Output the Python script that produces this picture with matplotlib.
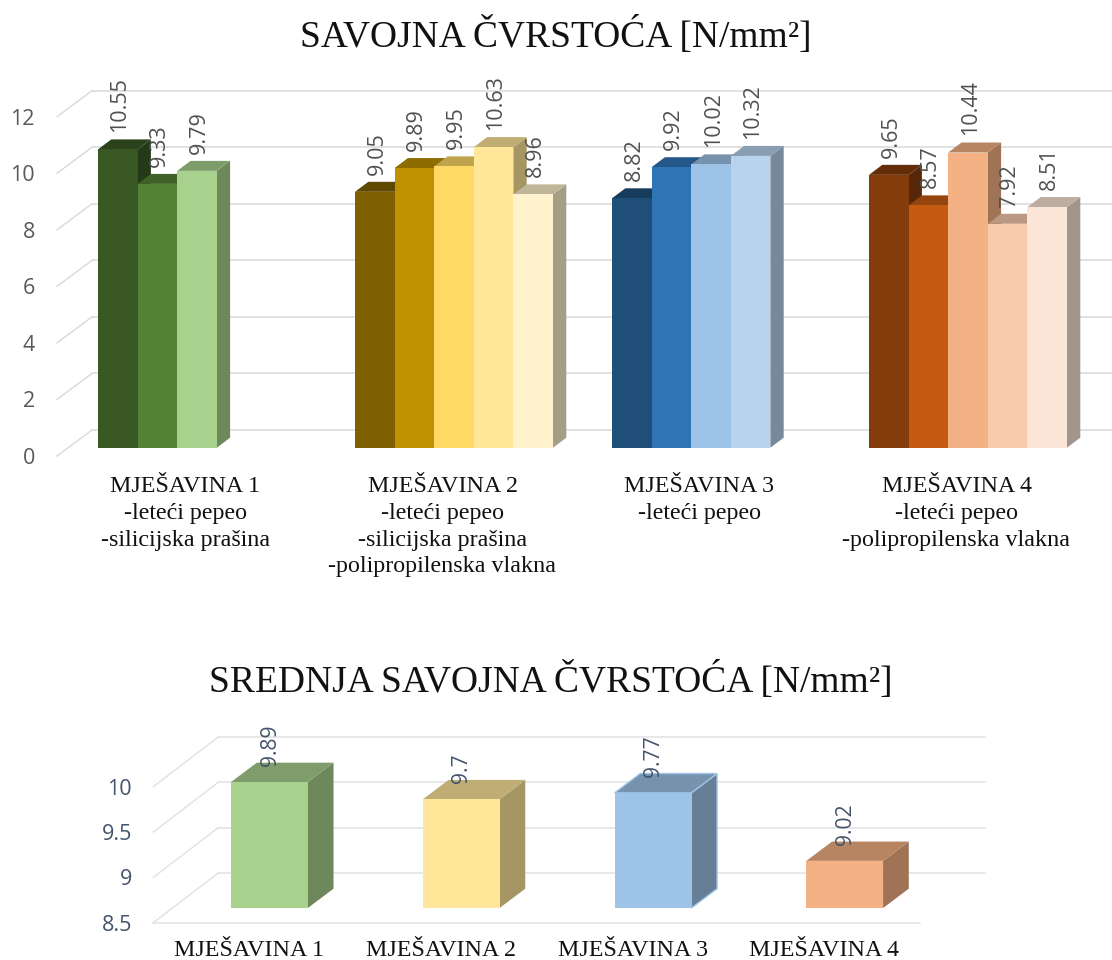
import numpy as np
import matplotlib
matplotlib.use("Agg")
import matplotlib.pyplot as plt
from matplotlib.colors import to_rgb

W, H = 1112, 960

# ---------- data ----------
title_top = "SAVOJNA ČVRSTOĆA [N/mm²]"
title_bottom = "SREDNJA SAVOJNA ČVRSTOĆA [N/mm²]"
categories_top = [
    "MJEŠAVINA 1\n-leteći pepeo\n-silicijska prašina",
    "MJEŠAVINA 2\n-leteći pepeo\n-silicijska prašina\n-polipropilenska vlakna",
    "MJEŠAVINA 3\n-leteći pepeo",
    "MJEŠAVINA 4\n-leteći pepeo\n-polipropilenska vlakna",
]
values_m1 = [10.55, 9.33, 9.79]
values_m2 = [9.05, 9.89, 9.95, 10.63, 8.96]
values_m3 = [8.82, 9.92, 10.02, 10.32]
values_m4 = [9.65, 8.57, 10.44, 7.92, 8.51]
colors_m1 = ["#385723", "#548235", "#a9d18e"]
colors_m2 = ["#7f6000", "#bf9000", "#ffd966", "#ffe699", "#fff2cc"]
colors_m3 = ["#1f4e79", "#2e75b6", "#9dc3e6", "#b8d3ee"]
colors_m4 = ["#843c0c", "#c55a11", "#f4b183", "#f8cbad", "#fbe5d6"]
yticks_top = [0, 2, 4, 6, 8, 10, 12]

categories_bottom = ["MJEŠAVINA 1", "MJEŠAVINA 2", "MJEŠAVINA 3", "MJEŠAVINA 4"]
values_mean = [9.89, 9.7, 9.77, 9.02]
colors_mean = ["#a9d18e", "#ffe699", "#9dc3e6", "#f4b183"]
yticks_bottom = [8.5, 9, 9.5, 10]

plt.rcParams["font.family"] = ["Open Sans", "DejaVu Sans"]
SERIF = ["Liberation Serif", "DejaVu Serif"]
fig = plt.figure(figsize=(W / 100, H / 100), dpi=100, facecolor="white")


def make_axes(x0, x1, y_bottom, y_top, xlim, ylim):
    ax = fig.add_axes([x0 / W, 1 - y_bottom / H, (x1 - x0) / W, (y_bottom - y_top) / H])
    ax.set_xlim(*xlim)
    ax.set_ylim(*ylim)
    ax.patch.set_alpha(0)
    for s in ax.spines.values():
        s.set_visible(False)
    return ax


def shade(c, f):
    return tuple(v * f for v in to_rgb(c))


def bar3d(ax, x, v, base, w, ddx, ddy, color, shift_x, shift_y, edge=None):
    """One box: side, top, front; depth and shifts are in data units."""
    l, r = x + shift_x - w / 2, x + shift_x + w / 2
    b, t = base + shift_y, v + shift_y
    ekw = dict(edgecolor=edge, lw=1.0) if edge else dict(lw=0)
    ax.fill([r, r + ddx, r + ddx, r], [b, b + ddy, t + ddy, t], facecolor=shade(color, .65), clip_on=False, **ekw)
    ax.fill([l, r, r + ddx, l + ddx], [t, t, t + ddy, t + ddy], facecolor=shade(color, .75), clip_on=False, **ekw)
    ax.fill([l, r, r, l], [b, b, t, t], facecolor=color, clip_on=False, lw=0)


def wall(ax, ticks, depth_fx, depth_dy, color, extra_front=False):
    tr = ax.get_yaxis_transform()
    for v in ticks:
        ax.plot([0, depth_fx], [v, v + depth_dy], color=color, lw=1.0, transform=tr, clip_on=False, zorder=0.5)
        ax.plot([depth_fx, 1 + depth_fx], [v + depth_dy] * 2, color=color, lw=1.1, transform=tr, clip_on=False,
                zorder=0.5)
    if extra_front:
        ax.plot([0, 1], [ticks[0]] * 2, color=color, lw=1.1, transform=tr, clip_on=False, zorder=0.5)


# ---------- top chart ----------
ppu = (456 - 116.7) / 12
pcat = 257.0
ax1 = make_axes(57, 1085, 456, 116.7, (-0.5, 3.5), (0, 12))
wall(ax1, yticks_top, 35 / 1028, 26 / ppu, "#d9d9d9")
slot = 39.6 / pcat
ddx1, ddy1 = 13.3 / pcat, 10 / ppu
sx1, sy1 = 11.5 / pcat, 8.3 / ppu
groups = [(values_m1, colors_m1), (values_m2, colors_m2), (values_m3, colors_m3), (values_m4, colors_m4)]
for i, (vals, cols) in enumerate(groups):
    for j, (v, c) in enumerate(zip(vals, cols)):
        x = i + (j - 2) * slot
        bar3d(ax1, x, v, 0, slot, ddx1, ddy1, c, sx1, sy1)
for i, (vals, cols) in enumerate(groups):
    for j, v in enumerate(vals):
        x = i + (j - 2) * slot + sx1
        ax1.annotate(f"{v:g}", (x, v + sy1), xytext=(1.5, 12.3), textcoords="offset points", rotation=90,
                     ha="center", va="bottom", fontsize=15.5, color="#505050", annotation_clip=False, zorder=10)
ax1.set_yticks(yticks_top)
ax1.set_yticklabels([str(t) for t in yticks_top], fontsize=15.5, color="#595959")
ax1.tick_params(axis="y", length=0, pad=16)
ax1.set_xticks(range(4))
ax1.set_xticklabels(categories_top, family=SERIF, fontsize=17.3, color="#111111", linespacing=1.36)
ax1.tick_params(axis="x", length=0, pad=14.5)

# ---------- bottom chart ----------
ppu2 = (922.7 - 786.7) / 1.5
pcat2 = 191.75
ax2 = make_axes(153.3, 920.3, 922.7, 786.7, (-0.5, 3.5), (8.5, 10))
wall(ax2, yticks_bottom, 65 / 767, 49.7 / ppu2, "#e1e1e1", extra_front=True)
w2 = 76.7 / pcat2
ddx2, ddy2 = 25.7 / pcat2, 19.3 / ppu2
sx2, sy2 = 20.3 / pcat2, 14.7 / ppu2
for i, (v, c) in enumerate(zip(values_mean, colors_mean)):
    bar3d(ax2, i, v, 8.5, w2, ddx2, ddy2, c, sx2, sy2, edge="#9dc3e6" if i == 2 else None)
    ax2.annotate(f"{v:g}", (i + sx2, v + sy2), xytext=(0.5, 11.5), textcoords="offset points", rotation=90,
                 ha="center", va="bottom", fontsize=15.2, color="#44546a", annotation_clip=False, zorder=10)
ax2.set_yticks(yticks_bottom)
ax2.set_yticklabels([f"{t:g}" for t in yticks_bottom], fontsize=15.5, color="#44546a")
ax2.tick_params(axis="y", length=0, pad=15.5)
ax2.set_xticks(range(4))
ax2.set_xticklabels(categories_bottom, family=SERIF, fontsize=17.3, color="#111111")
ax2.tick_params(axis="x", length=0, pad=12.5)

# ---------- titles ----------
fig.text(556 / W, 1 - 36 / H, title_top, family=SERIF, fontsize=27, color="#111111", ha="center", va="center")
fig.text(551 / W, 1 - 681 / H, title_bottom, family=SERIF, fontsize=27, color="#111111", ha="center", va="center")

fig.savefig("out.png", dpi=100, facecolor="white")
